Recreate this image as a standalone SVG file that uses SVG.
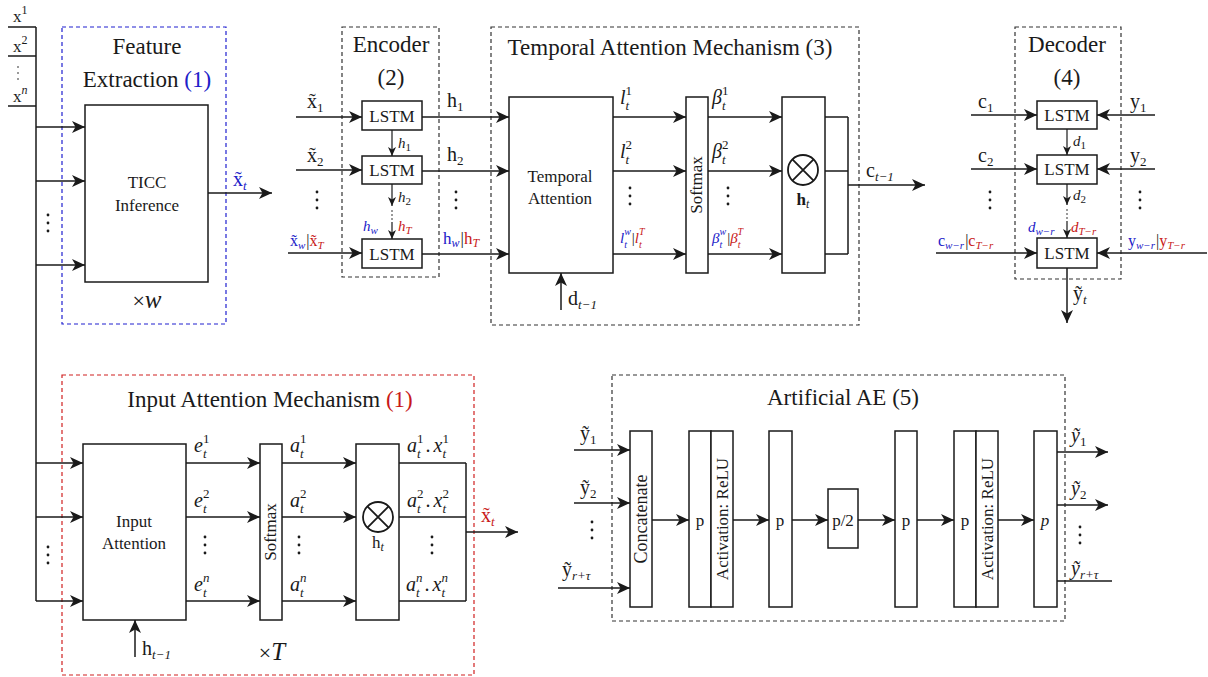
<svg xmlns="http://www.w3.org/2000/svg" width="1208" height="677" viewBox="0 0 1208 677" font-family="'Liberation Serif','DejaVu Serif',serif">
<style>
text{font-family:"Liberation Serif","DejaVu Serif","Times New Roman",serif;fill:#1a1a1a}
.ttl{font-size:23px}
.lb{font-size:17px}
.c{text-anchor:middle}
.mi{font-style:italic}
.m{font-size:20px}
.ms{font-size:15px}
.b{fill:#2020c8}
.r{fill:#c81818}
.box{fill:#fff;stroke:#1a1a1a;stroke-width:1.5}
.ln{fill:none;stroke:#1a1a1a;stroke-width:1.5}
.ar{fill:none;stroke:#1a1a1a;stroke-width:1.5;marker-end:url(#ah)}
.as{fill:none;stroke:#1a1a1a;stroke-width:1.2;marker-end:url(#ahs)}
.dk{fill:none;stroke:#333;stroke-width:1.2;stroke-dasharray:4 3}
.db{fill:none;stroke:#2020d0;stroke-width:1.2;stroke-dasharray:4 3}
.dr{fill:none;stroke:#d02020;stroke-width:1.2;stroke-dasharray:4 3}
.dot{fill:#1a1a1a}
</style>
<defs>
<marker id="ah" markerUnits="userSpaceOnUse" markerWidth="14" markerHeight="12" refX="13" refY="6" orient="auto"><path d="M0,0 L13,6 L0,12 L3.5,6 z" fill="#1a1a1a"/></marker>
<marker id="ahs" markerUnits="userSpaceOnUse" markerWidth="10" markerHeight="8" refX="9" refY="4" orient="auto"><path d="M0,0 L9,4 L0,8 L2.5,4 z" fill="#1a1a1a"/></marker>
<g id="vdots"><circle cx="0" cy="0" r="1.4"/><circle cx="0" cy="8" r="1.4"/><circle cx="0" cy="16" r="1.4"/></g>
<g id="otimes"><circle cx="0" cy="0" r="15" fill="none" stroke="#1a1a1a" stroke-width="1.8"/><path d="M-10.6,-10.6 L10.6,10.6 M-10.6,10.6 L10.6,-10.6" stroke="#1a1a1a" stroke-width="1.8"/></g>
</defs>

<!-- Inputs x^1..x^n -->
<g id="inputs">
<path class="ln" d="M8,27 H36 M8,56 H36 M8,106 H36 M36,27 V601"/>
<text x="13" y="22" class="lb">x<tspan font-size="12" dy="-8">1</tspan></text>
<text x="13" y="52" class="lb">x<tspan font-size="12" dy="-8">2</tspan></text>
<text x="13" y="102" class="lb">x<tspan font-size="12" dy="-8" font-style="italic">n</tspan></text>
<g class="dot"><circle cx="18" cy="67" r="0.8"/><circle cx="18" cy="73" r="0.8"/><circle cx="18" cy="79" r="0.8"/></g>
</g>

<!-- Feature extraction -->
<g id="feature-extraction">
<rect class="db" x="62" y="27" width="164" height="297"/>
<text x="147" y="54" class="ttl c">Feature</text>
<text x="147" y="87" class="ttl c">Extraction <tspan class="b">(1)</tspan></text>
<rect class="box" x="85" y="105" width="123" height="177"/>
<text x="147" y="188" class="lb c">TICC</text>
<text x="147" y="211" class="lb c">Inference</text>
<text x="147" y="308" class="c" font-size="22">×<tspan font-style="italic" font-size="25">w</tspan></text>
<text x="233" y="186" class="m b">x̃<tspan font-size="13" font-style="italic" dy="4">t</tspan></text>
</g>

<!-- Encoder -->
<g id="encoder">
<rect class="dk" x="342" y="27" width="97" height="250"/>
<text x="391" y="52" class="ttl c">Encoder</text>
<text x="391" y="85" class="ttl c">(2)</text>
<rect class="box" x="362" y="101" width="60" height="29"/>
<rect class="box" x="362" y="156" width="60" height="28"/>
<rect class="box" x="362" y="239" width="60" height="29"/>
<text x="392" y="122" class="lb c">LSTM</text>
<text x="392" y="176" class="lb c">LSTM</text>
<text x="392" y="260" class="lb c">LSTM</text>
<text x="398" y="148" class="ms mi">h<tspan font-size="11" font-style="normal" dy="3">1</tspan></text>
<text x="398" y="202" class="ms mi">h<tspan font-size="11" font-style="normal" dy="3">2</tspan></text>
<text x="363" y="231" class="ms mi b">h<tspan font-size="11" dy="3">w</tspan></text>
<text x="398" y="231" class="ms mi r">h<tspan font-size="11" dy="3">T</tspan></text>
</g>

<!-- Temporal attention -->
<g id="temporal-attention">
<rect class="dk" x="491" y="27" width="368" height="298"/>
<text x="670" y="55" class="ttl c">Temporal Attention Mechanism (3)</text>
<rect class="box" x="509" y="97" width="104" height="176"/>
<text x="560" y="182" class="lb c">Temporal</text>
<text x="560" y="204" class="lb c">Attention</text>
<rect class="box" x="686" y="97" width="22" height="176"/>
<text class="lb c" transform="translate(702,185) rotate(-90)">Softmax</text>
<rect class="box" x="782" y="97" width="43" height="176"/>
<use href="#otimes" x="803" y="170"/>
<text x="803" y="205" class="c" font-size="17" font-weight="bold">h<tspan font-size="12" font-style="italic" font-weight="normal" dy="3">t</tspan></text>
<text x="568" y="305" class="m">d<tspan font-size="13" font-style="italic" dy="4">t−1</tspan></text>
<text x="620" y="104" class="m mi">l<tspan font-size="13" dy="6">t</tspan><tspan font-size="13" font-style="normal" dx="-3.6" dy="-15">1</tspan></text>
<text x="620" y="158" class="m mi">l<tspan font-size="13" dy="6">t</tspan><tspan font-size="13" font-style="normal" dx="-3.6" dy="-15">2</tspan></text>
<text x="620" y="243" font-size="15" class="mi"><tspan class="b">l<tspan font-size="10" dy="5">t</tspan><tspan font-size="10" dx="-2.8" dy="-13">w</tspan></tspan><tspan dx="1" dy="8" font-style="normal">|</tspan><tspan class="r">l<tspan font-size="10" dy="5">t</tspan><tspan font-size="10" dx="-2.8" dy="-13">T</tspan></tspan></text>
<text x="712" y="104" class="m mi">β<tspan font-size="13" dy="6">t</tspan><tspan font-size="13" font-style="normal" dx="-3.6" dy="-15">1</tspan></text>
<text x="712" y="158" class="m mi">β<tspan font-size="13" dy="6">t</tspan><tspan font-size="13" font-style="normal" dx="-3.6" dy="-15">2</tspan></text>
<text x="712" y="243" font-size="15" class="mi"><tspan class="b">β<tspan font-size="10" dy="5">t</tspan><tspan font-size="10" dx="-2.8" dy="-13">w</tspan></tspan><tspan dx="1" dy="8" font-style="normal">|</tspan><tspan class="r">β<tspan font-size="10" dy="5">t</tspan><tspan font-size="10" dx="-2.8" dy="-13">T</tspan></tspan></text>
</g>

<!-- Decoder -->
<g id="decoder">
<rect class="dk" x="1015" y="27" width="106" height="252"/>
<text x="1067" y="52" class="ttl c">Decoder</text>
<text x="1067" y="85" class="ttl c">(4)</text>
<rect class="box" x="1037" y="101" width="60" height="28"/>
<rect class="box" x="1037" y="155" width="60" height="29"/>
<rect class="box" x="1037" y="238" width="60" height="30"/>
<text x="1067" y="121" class="lb c">LSTM</text>
<text x="1067" y="175" class="lb c">LSTM</text>
<text x="1067" y="259" class="lb c">LSTM</text>
<text x="1073" y="146" class="ms mi">d<tspan font-size="11" font-style="normal" dy="3">1</tspan></text>
<text x="1073" y="200" class="ms mi">d<tspan font-size="11" font-style="normal" dy="3">2</tspan></text>
<text x="1028" y="232" class="ms mi b">d<tspan font-size="11" dy="3">w−r</tspan></text>
<text x="1071" y="232" class="ms mi r">d<tspan font-size="11" dy="3">T−r</tspan></text>
<text x="978" y="108" class="m">c<tspan font-size="13" dy="4">1</tspan></text>
<text x="978" y="162" class="m">c<tspan font-size="13" dy="4">2</tspan></text>
<text x="938" y="246" font-size="16"><tspan class="b">c<tspan font-size="11" font-style="italic" dy="3">w−r</tspan></tspan><tspan dx="1" dy="-3">|</tspan><tspan class="r">c<tspan font-size="11" font-style="italic" dy="3">T−r</tspan></tspan></text>
<text x="1130" y="108" class="m">y<tspan font-size="13" dy="4">1</tspan></text>
<text x="1130" y="162" class="m">y<tspan font-size="13" dy="4">2</tspan></text>
<text x="1128" y="246" font-size="16"><tspan class="b">y<tspan font-size="11" font-style="italic" dy="3">w−r</tspan></tspan><tspan dx="1" dy="-3">|</tspan><tspan class="r">y<tspan font-size="11" font-style="italic" dy="3">T−r</tspan></tspan></text>
<text x="1073" y="300" class="m">ỹ<tspan font-size="13" font-style="italic" dy="4">t</tspan></text>
</g>

<!-- Input attention -->
<g id="input-attention">
<rect class="dr" x="62" y="375" width="412" height="300"/>
<text x="270" y="407" class="ttl c">Input Attention Mechanism <tspan class="r">(1)</tspan></text>
<rect class="box" x="83" y="444" width="103" height="176"/>
<text x="134" y="527" class="lb c">Input</text>
<text x="134" y="549" class="lb c">Attention</text>
<rect class="box" x="260" y="444" width="22" height="176"/>
<text class="lb c" transform="translate(276,532) rotate(-90)">Softmax</text>
<rect class="box" x="356" y="444" width="43" height="176"/>
<use href="#otimes" x="378" y="517"/>
<text x="378" y="548" class="c" font-size="17">h<tspan font-size="12" font-style="italic" dy="3">t</tspan></text>
<text x="142" y="655" class="m">h<tspan font-size="13" font-style="italic" dy="4">t−1</tspan></text>
<text x="272" y="660" class="c" font-size="22">×<tspan font-style="italic" font-size="25">T</tspan></text>
<text x="194" y="452" class="m mi">e<tspan font-size="13" dy="6">t</tspan><tspan font-size="13" font-style="normal" dx="-3.6" dy="-15">1</tspan></text>
<text x="194" y="507" class="m mi">e<tspan font-size="13" dy="6">t</tspan><tspan font-size="13" font-style="normal" dx="-3.6" dy="-15">2</tspan></text>
<text x="194" y="591" class="m mi">e<tspan font-size="13" dy="6">t</tspan><tspan font-size="13" dx="-3.6" dy="-15">n</tspan></text>
<text x="290" y="452" class="m mi">a<tspan font-size="13" dy="6">t</tspan><tspan font-size="13" font-style="normal" dx="-3.6" dy="-15">1</tspan></text>
<text x="290" y="507" class="m mi">a<tspan font-size="13" dy="6">t</tspan><tspan font-size="13" font-style="normal" dx="-3.6" dy="-15">2</tspan></text>
<text x="290" y="591" class="m mi">a<tspan font-size="13" dy="6">t</tspan><tspan font-size="13" dx="-3.6" dy="-15">n</tspan></text>
<text x="407" y="452" class="m mi">a<tspan font-size="13" dy="6">t</tspan><tspan font-size="13" font-style="normal" dx="-3.6" dy="-15">1</tspan><tspan dx="2" dy="9" font-style="normal">.</tspan><tspan dx="3">x</tspan><tspan font-size="13" dy="6">t</tspan><tspan font-size="13" font-style="normal" dx="-3.6" dy="-15">1</tspan></text>
<text x="407" y="507" class="m mi">a<tspan font-size="13" dy="6">t</tspan><tspan font-size="13" font-style="normal" dx="-3.6" dy="-15">2</tspan><tspan dx="2" dy="9" font-style="normal">.</tspan><tspan dx="3">x</tspan><tspan font-size="13" dy="6">t</tspan><tspan font-size="13" font-style="normal" dx="-3.6" dy="-15">2</tspan></text>
<text x="406" y="591" class="m mi">a<tspan font-size="13" dy="6">t</tspan><tspan font-size="13" dx="-3.6" dy="-15">n</tspan><tspan dx="2" dy="9" font-style="normal">.</tspan><tspan dx="3">x</tspan><tspan font-size="13" dy="6">t</tspan><tspan font-size="13" dx="-3.6" dy="-15">n</tspan></text>
<text x="481" y="522" class="m r">x̃<tspan font-size="13" font-style="italic" dy="4">t</tspan></text>
</g>

<!-- Artificial AE -->
<g id="artificial-ae">
<rect class="dk" x="612" y="375" width="453" height="246"/>
<text x="843" y="405" class="ttl c">Artificial AE (5)</text>
<rect class="box" x="630" y="431" width="22" height="176"/>
<text class="c" font-size="18" transform="translate(647,519) rotate(-90)">Concatenate</text>
<rect class="box" x="689" y="431" width="22" height="176"/>
<rect class="box" x="711" y="431" width="22" height="176"/>
<text x="700" y="526" class="lb c">p</text>
<text class="lb c" transform="translate(728,519) rotate(-90)">Activation: ReLU</text>
<rect class="box" x="769" y="431" width="23" height="176"/>
<text x="780" y="526" class="lb c">p</text>
<rect class="box" x="828" y="489" width="30" height="59"/>
<text x="843" y="526" class="lb c">p/2</text>
<rect class="box" x="895" y="431" width="22" height="176"/>
<text x="906" y="526" class="lb c">p</text>
<rect class="box" x="954" y="431" width="22" height="176"/>
<rect class="box" x="976" y="431" width="22" height="176"/>
<text x="965" y="526" class="lb c">p</text>
<text class="lb c" transform="translate(993,519) rotate(-90)">Activation: ReLU</text>
<rect class="box" x="1034" y="431" width="23" height="176"/>
<text x="1045" y="526" class="lb c mi">p</text>
<text x="580" y="440" class="m">ỹ<tspan font-size="13" dy="4">1</tspan></text>
<text x="580" y="494" class="m">ỹ<tspan font-size="13" dy="4">2</tspan></text>
<text x="562" y="576" class="m">ỹ<tspan font-size="13" font-style="italic" dy="4">r+τ</tspan></text>
<text x="1071" y="442" class="m mi">ỹ<tspan font-size="13" font-style="normal" dy="4">1</tspan></text>
<text x="1071" y="495" class="m mi">ỹ<tspan font-size="13" font-style="normal" dy="4">2</tspan></text>
<text x="1071" y="575" class="m mi">ỹ<tspan font-size="13" dy="4">r+τ</tspan></text>
</g>

<!-- Dots -->
<g id="ellipses" class="dot">
<use href="#vdots" x="48" y="215"/>
<use href="#vdots" x="317" y="192"/>
<use href="#vdots" x="456" y="192"/>
<use href="#vdots" x="630" y="188"/>
<use href="#vdots" x="728" y="188"/>
<use href="#vdots" x="990" y="192"/>
<use href="#vdots" x="1140" y="192"/>
<use href="#vdots" x="48" y="547"/>
<use href="#vdots" x="205" y="537"/>
<use href="#vdots" x="299" y="537"/>
<use href="#vdots" x="432" y="537"/>
<use href="#vdots" x="592" y="522"/>
<use href="#vdots" x="1080" y="527"/>
<circle cx="392" cy="211" r="0.8"/><circle cx="392" cy="215" r="0.8"/><circle cx="392" cy="219" r="0.8"/>
<circle cx="1067" cy="210" r="0.8"/><circle cx="1067" cy="214" r="0.8"/><circle cx="1067" cy="218" r="0.8"/>
</g>

<!-- Connectors -->
<g id="connectors">
<path class="ar" d="M36,127 H85"/>
<path class="ar" d="M36,181 H85"/>
<path class="ar" d="M36,265 H85"/>
<path class="ar" d="M208,193 H272"/>
<path class="ar" d="M296,117 H362"/>
<path class="ar" d="M296,170 H362"/>
<path class="ar" d="M288,253 H362"/>
<path class="as" d="M392,130 V156"/>
<path class="as" d="M392,184 V206"/>
<path class="as" d="M392,222 V239"/>
<path class="ar" d="M422,117 H509"/>
<path class="ar" d="M422,171 H509"/>
<path class="ar" d="M422,254 H509"/>
<path class="ar" d="M561,310 V273"/>
<path class="ar" d="M613,117 H686"/>
<path class="ar" d="M613,171 H686"/>
<path class="ar" d="M613,254 H686"/>
<path class="ar" d="M708,117 H782"/>
<path class="ar" d="M708,171 H782"/>
<path class="ar" d="M708,254 H782"/>
<path class="ln" d="M825,117 H848 M825,171 H848 M825,254 H848 M848,117 V254"/>
<path class="ar" d="M848,185 H925"/>
<path class="ar" d="M971,115 H1037"/>
<path class="ar" d="M971,169 H1037"/>
<path class="ar" d="M936,253 H1037"/>
<path class="ar" d="M1155,115 H1097"/>
<path class="ar" d="M1155,169 H1097"/>
<path class="ar" d="M1207,253 H1097"/>
<path class="as" d="M1067,129 V155"/>
<path class="as" d="M1067,184 V205"/>
<path class="as" d="M1067,221 V238"/>
<path class="ar" d="M1067,268 V323"/>
<path class="ar" d="M36,463 H83"/>
<path class="ar" d="M36,517 H83"/>
<path class="ar" d="M36,601 H83"/>
<path class="ar" d="M135,657 V620"/>
<path class="ar" d="M186,463 H260"/>
<path class="ar" d="M186,517 H260"/>
<path class="ar" d="M186,601 H260"/>
<path class="ar" d="M282,463 H356"/>
<path class="ar" d="M282,517 H356"/>
<path class="ar" d="M282,601 H356"/>
<path class="ln" d="M399,463 H466 M399,517 H466 M399,601 H466 M466,463 V601"/>
<path class="ar" d="M466,532 H518"/>
<path class="ar" d="M574,450 H630"/>
<path class="ar" d="M574,503 H630"/>
<path class="ar" d="M558,588 H630"/>
<path class="ar" d="M652,520 H689"/>
<path class="ar" d="M733,520 H769"/>
<path class="ar" d="M792,520 H828"/>
<path class="ar" d="M858,520 H895"/>
<path class="ar" d="M917,520 H954"/>
<path class="ar" d="M998,520 H1034"/>
<path class="ar" d="M1057,452 H1108"/>
<path class="ar" d="M1057,505 H1108"/>
<path class="ln" d="M1057,581 H1112"/>
</g>

<!-- Encoder side labels -->
<g id="encoder-labels">
<text x="307" y="108" class="m">x̃<tspan font-size="13" dy="4">1</tspan></text>
<text x="307" y="162" class="m">x̃<tspan font-size="13" dy="4">2</tspan></text>
<text x="290" y="246" font-size="16"><tspan class="b">x̃<tspan font-size="11" font-style="italic" dy="3">w</tspan></tspan><tspan dx="1" dy="-3">|</tspan><tspan class="r">x̃<tspan font-size="11" font-style="italic" dy="3">T</tspan></tspan></text>
<text x="447" y="107" class="m">h<tspan font-size="13" dy="4">1</tspan></text>
<text x="447" y="161" class="m">h<tspan font-size="13" dy="4">2</tspan></text>
<text x="443" y="244" font-size="17"><tspan class="b">h<tspan font-size="12" font-style="italic" dy="3">w</tspan></tspan><tspan dx="1" dy="-3">|</tspan><tspan class="r">h<tspan font-size="12" font-style="italic" dy="3">T</tspan></tspan></text>
<text x="866" y="177" class="m">c<tspan font-size="13" font-style="italic" dy="4">t−1</tspan></text>
</g>
</svg>
